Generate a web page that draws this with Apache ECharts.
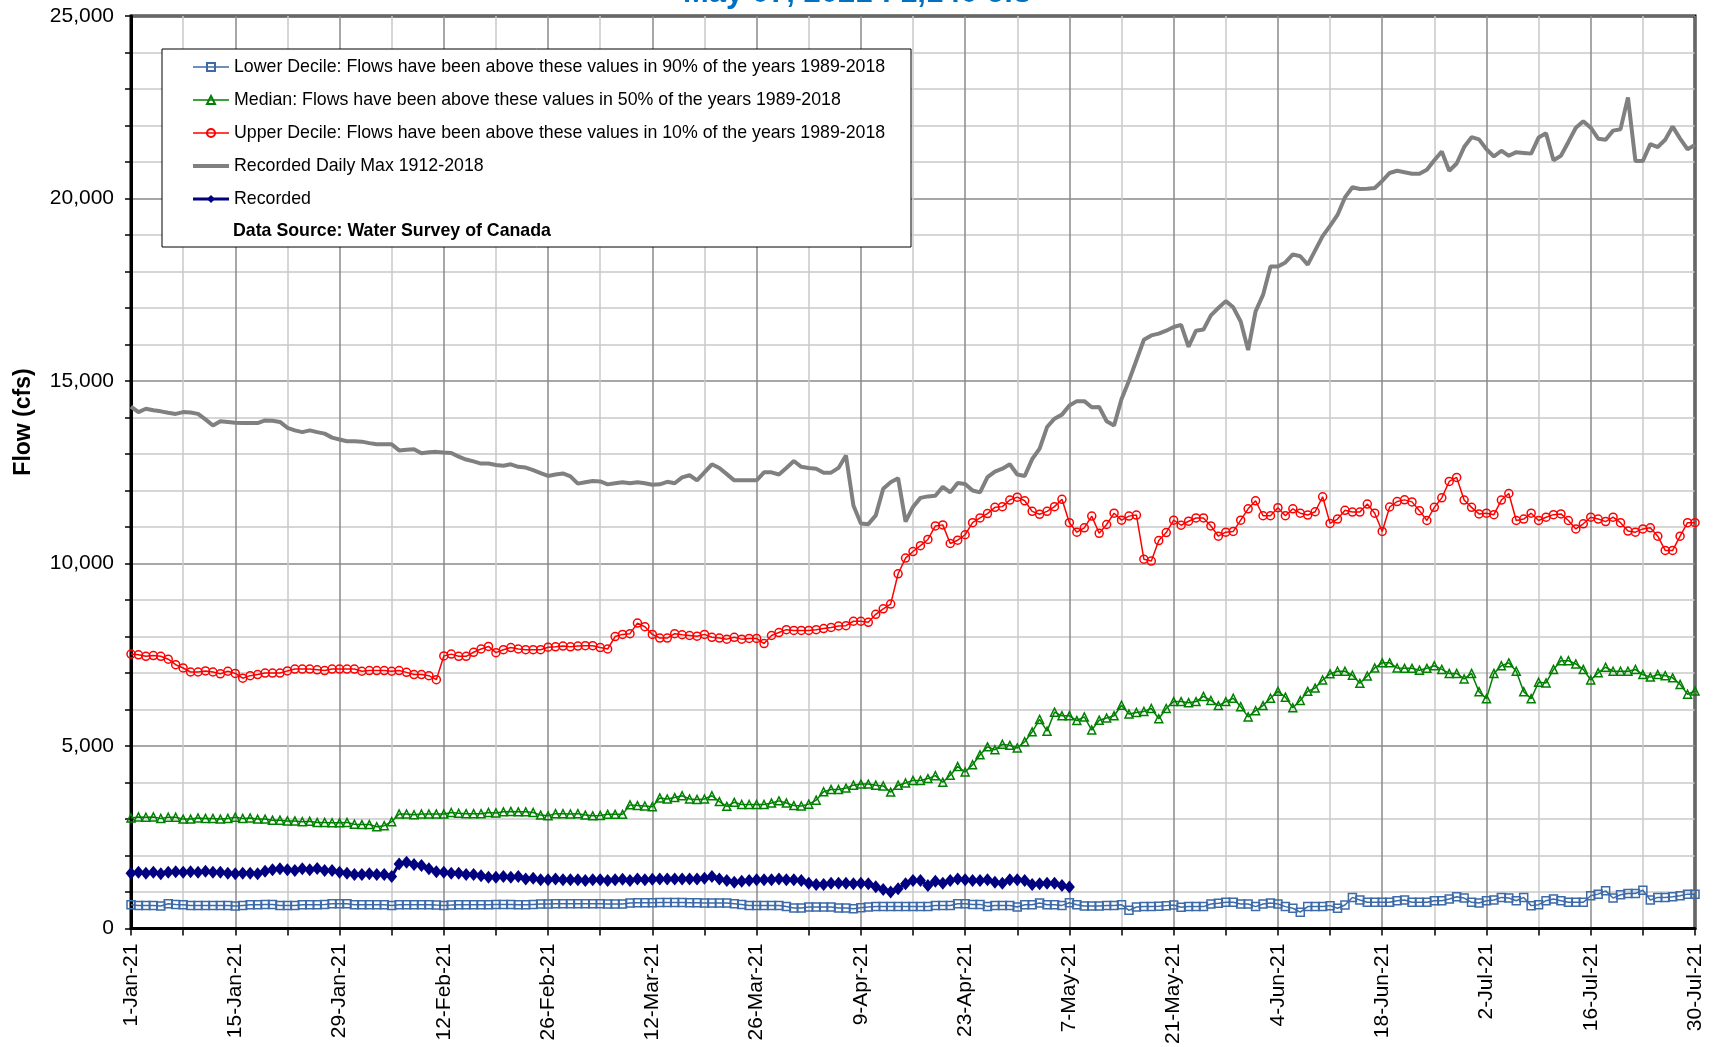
<!DOCTYPE html>
<html>
<head>
<meta charset="utf-8">
<script src="https://cdn.jsdelivr.net/npm/echarts@6/dist/echarts.min.js"></script>
<style>
html,body{margin:0;padding:0;background:#fff;}
#chart{width:1714px;height:1047px;}
</style>
</head>
<body>
<div id="chart"></div>
<script>
// Day index 0 = 1-Jan-21 ... 210 = 30-Jul-21
const tickLabels = ['1-Jan-21','15-Jan-21','29-Jan-21','12-Feb-21','26-Feb-21','12-Mar-21','26-Mar-21','9-Apr-21','23-Apr-21','7-May-21','21-May-21','4-Jun-21','18-Jun-21','2-Jul-21','16-Jul-21','30-Jul-21'];

const seriesNames = [
  'Lower Decile: Flows have been above these values in 90% of the years 1989-2018',
  'Median: Flows have been above these values in 50% of the years 1989-2018',
  'Upper Decile: Flows have been above these values in 10% of the years 1989-2018',
  'Recorded Daily Max 1912-2018',
  'Recorded'
];

const lowerDecile = [
655,636,636,636,618,682,664,655,636,636,636,636,636,636,618,636,655,655,664,664,
636,636,636,655,655,655,664,682,682,682,655,655,655,655,655,636,655,655,655,655,
655,645,636,645,655,655,655,655,655,664,664,664,655,655,664,673,673,682,682,682,
682,682,682,682,673,673,673,700,709,709,709,718,718,718,718,709,709,700,700,700,
700,682,664,636,636,636,636,636,609,564,564,591,591,591,591,564,564,545,573,591,
609,609,609,609,609,609,609,609,636,636,636,682,682,664,664,609,636,636,636,591,
655,655,700,655,655,636,709,655,618,618,618,636,636,655,500,591,609,603,610,630,
648,585,603,603,603,675,693,720,720,675,675,603,675,702,675,603,558,450,603,603,
603,630,558,648,855,783,720,720,720,720,765,783,720,720,720,765,765,810,873,837,
720,702,765,783,855,837,765,855,630,657,765,810,765,720,720,720,900,945,1035,837,
927,963,963,1053,783,855,855,873,900,945,945];

const median = [
3030,3060,3050,3060,3020,3050,3050,3000,3000,3030,3020,3020,3000,3020,3050,3020,3030,3000,3000,2970,
2970,2950,2950,2930,2940,2910,2910,2900,2900,2910,2860,2850,2850,2790,2820,2930,3140,3140,3120,3140,
3140,3140,3140,3180,3160,3150,3150,3150,3180,3170,3200,3210,3200,3200,3180,3110,3090,3150,3150,3140,
3150,3110,3090,3100,3130,3130,3130,3390,3370,3360,3340,3580,3550,3590,3640,3550,3540,3550,3640,3480,
3350,3460,3400,3400,3400,3400,3440,3500,3440,3370,3360,3410,3520,3750,3810,3810,3850,3930,3960,3960,
3930,3910,3740,3930,3990,4060,4060,4110,4190,4010,4200,4440,4290,4490,4760,4980,4900,5050,5020,4950,
5120,5390,5730,5410,5930,5830,5830,5700,5800,5440,5710,5770,5830,6120,5880,5920,5950,6030,5750,6030,
6220,6220,6190,6220,6360,6250,6110,6220,6310,6080,5800,5970,6110,6310,6500,6340,6050,6250,6500,6590,
6810,6980,7050,7050,6940,6720,6920,7140,7280,7280,7140,7130,7130,7080,7130,7200,7100,6990,6990,6840,
6990,6490,6300,6990,7200,7280,7050,6490,6300,6750,6730,7100,7340,7340,7250,7100,6810,7010,7160,7050,
7050,7050,7100,6960,6890,6960,6930,6870,6690,6420,6510];

const upperDecile = [
7520,7500,7460,7480,7460,7380,7230,7140,7030,7030,7060,7030,6980,7050,6990,6860,6930,6960,7000,7000,
7000,7060,7110,7110,7110,7090,7070,7110,7110,7110,7110,7050,7070,7070,7070,7050,7070,7020,6960,6960,
6930,6820,7470,7520,7460,7460,7570,7660,7730,7560,7640,7700,7660,7640,7640,7640,7710,7720,7740,7720,
7740,7750,7750,7700,7660,8000,8060,8080,8370,8270,8060,7960,7960,8080,8050,8030,8010,8060,7980,7960,
7930,7980,7930,7950,7950,7810,8030,8110,8190,8170,8170,8170,8190,8220,8250,8290,8300,8420,8420,8390,
8610,8760,8890,9720,10150,10330,10490,10660,11030,11060,10550,10640,10790,11120,11250,11370,11540,11560,11740,11820,
11720,11430,11350,11430,11560,11760,11120,10860,10980,11300,10830,11070,11380,11190,11300,11330,10120,10070,10630,10850,
11190,11050,11160,11250,11250,11030,10750,10860,10880,11190,11500,11720,11310,11310,11530,11310,11500,11380,11330,11420,
11830,11100,11220,11460,11410,11410,11630,11380,10880,11550,11700,11745,11690,11450,11180,11540,11800,12250,12360,11740,
11540,11360,11380,11340,11740,11920,11180,11220,11380,11180,11270,11340,11360,11180,10950,11090,11270,11220,11150,11270,
11120,10890,10860,10950,10980,10750,10360,10360,10750,11120,11120];

const dailyMax = [
14300,14150,14240,14200,14170,14130,14100,14150,14140,14100,13950,13780,13900,13880,13860,13850,13850,13850,13920,13910,
13880,13720,13650,13600,13650,13600,13560,13450,13400,13350,13350,13340,13300,13270,13270,13270,13100,13120,13130,13020,
13050,13060,13040,13030,12930,12850,12800,12740,12740,12700,12680,12720,12650,12630,12560,12480,12400,12440,12470,12390,
12190,12230,12260,12250,12170,12200,12230,12200,12230,12200,12160,12170,12240,12200,12360,12420,12280,12500,12720,12620,
12450,12280,12280,12280,12280,12500,12500,12440,12620,12810,12650,12620,12600,12490,12490,12620,12960,11590,11100,11080,
11320,12050,12230,12340,11150,11550,11800,11840,11860,12100,11950,12210,12180,12000,11950,12370,12520,12600,12720,12440,
12400,12860,13150,13740,13970,14080,14330,14450,14450,14280,14290,13900,13780,14510,15010,15570,16130,16250,16300,16380,
16480,16540,15940,16380,16410,16800,17000,17190,17020,16630,15850,16910,17360,18140,18140,18250,18470,18420,18190,18580,
18970,19250,19550,20030,20310,20260,20270,20290,20480,20700,20760,20720,20680,20680,20790,21050,21290,20760,20960,21410,
21680,21620,21350,21150,21310,21170,21270,21250,21230,21670,21790,21050,21170,21550,21940,22120,21940,21640,21610,21860,
21900,22770,21030,21030,21490,21410,21610,21970,21640,21350,21470];

const recorded = [
1520,1545,1520,1545,1500,1545,1560,1545,1560,1545,1570,1545,1545,1520,1500,1520,1520,1500,1570,1610,
1640,1610,1590,1640,1610,1650,1590,1590,1545,1520,1480,1480,1500,1480,1480,1430,1770,1820,1760,1730,
1640,1560,1545,1520,1520,1480,1480,1450,1410,1410,1430,1410,1430,1360,1380,1340,1340,1360,1340,1340,
1340,1320,1340,1340,1320,1340,1350,1320,1360,1340,1350,1360,1360,1360,1360,1360,1360,1380,1430,1360,
1320,1270,1300,1320,1340,1340,1340,1360,1340,1340,1320,1245,1210,1210,1245,1245,1245,1230,1245,1230,
1150,1070,1000,1090,1230,1320,1320,1180,1300,1245,1320,1360,1340,1320,1320,1340,1270,1245,1340,1340,
1320,1210,1230,1245,1245,1180,1140];

const titleText = 'May 07, 2021 : 1,140 cfs';
const yAxisTitle = 'Flow (cfs)';
const sourceText = 'Data Source: Water Survey of Canada';

const FONT = 'Arial, "Liberation Sans", sans-serif';
const toXY = arr => arr.map((v, i) => [i, v]);

const chart = echarts.init(document.getElementById('chart'), null, {renderer: 'canvas'});

function hollowSeries(name, data, color, symbol, size) {
  return {
    name: name, type: 'line', data: toXY(data),
    symbol: symbol, symbolSize: size, showAllSymbol: true,
    lineStyle: {color: color, width: 1.5},
    itemStyle: {color: 'rgba(255,255,255,0)', borderColor: color, borderWidth: 1.5},
    emphasis: {disabled: true}
  };
}

const option = {
  animation: false,
  backgroundColor: '#fff',
  textStyle: {fontFamily: FONT},
  grid: {left: 131, right: 19, top: 16, bottom: 115, show: true, borderColor: '#000', borderWidth: 3, backgroundColor: '#fff'},
  xAxis: {
    type: 'value', min: 0, max: 210, interval: 7,
    axisLine: {show: true, onZero: false, lineStyle: {color: '#000', width: 3}},
    axisTick: {show: true, length: 7, lineStyle: {color: '#000', width: 1.5}},
    axisLabel: {
      rotate: 90, margin: 15, fontSize: 21, color: '#000', fontFamily: FONT,
      formatter: v => (v % 14 === 0 ? tickLabels[v / 14] : '')
    },
    splitLine: {show: true, lineStyle: {color: ['#8a8a8a', '#c8c8c8'], width: 1.5}}
  },
  yAxis: {
    type: 'value', min: 0, max: 25000, interval: 1000,
    axisLine: {show: true, onZero: false, lineStyle: {color: '#000', width: 3}},
    axisTick: {show: true, length: 6, lineStyle: {color: '#000', width: 1.5}},
    axisLabel: {
      margin: 17, fontSize: 21, color: '#000', fontFamily: FONT,
      formatter: v => (v % 5000 === 0 ? v.toLocaleString('en-US') : '')
    },
    splitLine: {show: true, lineStyle: {color: ['#8a8a8a', '#c8c8c8', '#c8c8c8', '#c8c8c8', '#c8c8c8'], width: 1.5}}
  },
  legend: {
    orient: 'vertical', left: 191, top: 57, padding: 0, z: 200,
    itemWidth: 36, itemHeight: 10, itemGap: 13,
    backgroundColor: 'transparent',
    lineStyle: {width: 'inherit'},
    textStyle: {fontSize: 17.75, color: '#000', fontFamily: FONT, lineHeight: 20},
    data: [
      {name: seriesNames[0]},
      {name: seriesNames[1]},
      {name: seriesNames[2]},
      {name: seriesNames[3], itemStyle: {opacity: 0}},
      {name: seriesNames[4]}
    ]
  },
  graphic: [
    {type: 'rect', z: 100, shape: {x: 162, y: 49, width: 749, height: 198},
     style: {fill: '#fff', stroke: '#000', lineWidth: 1}},
    {type: 'text', z: 200, x: 233, y: 231,
     style: {text: sourceText, font: 'bold 17.75px ' + FONT, fill: '#000', textVerticalAlign: 'middle'}},
    {type: 'text', z: 200, x: 857, y: 9,
     style: {text: titleText, font: 'bold 31px ' + FONT, fill: '#0070C0', textAlign: 'center', textVerticalAlign: 'bottom'}},
    {type: 'text', z: 200, x: 24, y: 422, rotation: Math.PI / 2,
     style: {text: yAxisTitle, font: 'bold 23px ' + FONT, fill: '#000', textAlign: 'center', textVerticalAlign: 'middle'}}
  ],
  series: [
    hollowSeries(seriesNames[0], lowerDecile, '#3d6aa8', 'rect', 8),
    hollowSeries(seriesNames[1], median, '#008000', 'triangle', 8),
    hollowSeries(seriesNames[2], upperDecile, '#ff0000', 'circle', 8),
    {
      name: seriesNames[3], type: 'line', data: toXY(dailyMax), symbol: 'none',
      lineStyle: {color: '#808080', width: 4}, itemStyle: {color: '#808080'}, emphasis: {disabled: true}
    },
    {
      name: seriesNames[4], type: 'line', data: toXY(recorded), symbol: 'diamond', symbolSize: [11, 13], showAllSymbol: true,
      lineStyle: {color: '#000080', width: 3}, itemStyle: {color: '#000080'}, emphasis: {disabled: true}
    }
  ]
};
chart.setOption(option);
</script>
</body>
</html>
